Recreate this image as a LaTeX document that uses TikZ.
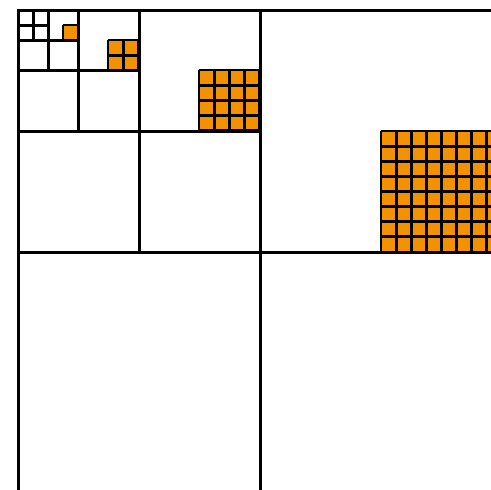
\documentclass[tikz,border=0pt]{standalone}
\definecolor{cellorange}{RGB}{242,146,0}
\begin{document}
\begin{tikzpicture}[x=1pt,y=-1pt,
  frame/.style={draw=black,line width=3pt},
  gridline/.style={draw=black,line width=2.8pt},
  cellfill/.style={fill=cellorange}]
\useasboundingbox (0,0) rectangle (491,490);
\fill[white] (0,0) rectangle (491,490);
\clip (0,0) rectangle (491,490);
% orange blocks: (x0,y0,n) with cell size 15.125
\foreach \x/\y/\n in {63/25/1, 108/40/2, 199/70/4, 381/131/8}{
  \pgfmathsetmacro{\s}{15.125*\n}
  \fill[cellorange] (\x,\y) rectangle ++(\s,\s);
  \foreach \i in {0,...,\n}{
    \draw[gridline] (\x+\i*15.125,\y) -- ++(0,\s);
    \draw[gridline] (\x,\y+\i*15.125) -- ++(\s,0);
  }
}
% recursive squares
\draw[frame] (18,10) rectangle (502,494);
\draw[frame] (260,10) -- (260,494) (18,252) -- (502,252);
\draw[frame] (139,10) -- (139,252) (18,131) -- (260,131);
\draw[frame] (78,10) -- (78,131) (18,70) -- (139,70);
\draw[frame] (48,10) -- (48,70) (18,40) -- (78,40);
\draw[frame] (33,10) -- (33,40) (18,25) -- (48,25);
\end{tikzpicture}
\end{document}
